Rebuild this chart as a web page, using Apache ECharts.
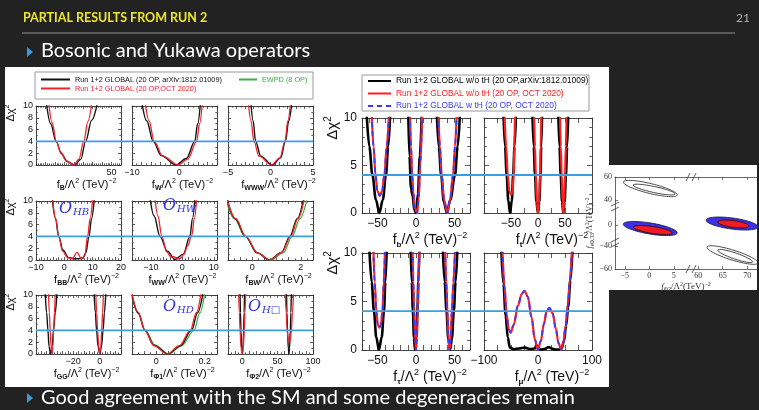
<!DOCTYPE html>
<html><head><meta charset="utf-8">
<script src="https://cdn.jsdelivr.net/npm/echarts@6/dist/echarts.min.js"></script>
<style>html,body{margin:0;padding:0;background:#222;}#c{width:759px;height:410px;}</style>
</head><body><div id="c"></div>
<script>
// ---------------- DATA ----------------
const threshold = 4;
const N_L1 = 'Run 1+2 GLOBAL (20 OP, arXiv:1812.01009)';
const N_L2 = 'Run 1+2 GLOBAL (20 OP,OCT 2020)';
const N_L3 = 'EWPD (8 OP)';
const N_R1 = 'Run 1+2 GLOBAL w/o tH (20 OP,arXiv:1812.01009)';
const N_R2 = 'Run 1+2 GLOBAL w/o tH (20 OP, OCT 2020)';
const N_R3 = 'Run 1+2 GLOBAL w tH (20 OP, OCT 2020)';

// left panel curves (each: list of wells, each well: [f, dchi2] points)
const fB_run1 = [[[-19,10.5],[-14.5,7],[-8.7,4],[-3,1.9],[3,0.6],[11,0],[17.5,1],[22.5,4],[29,7.6],[35,10.5]]];
const fB_oct  = [[[-16.5,10.5],[-13,7.2],[-8.5,4],[-4,2.2],[2,0.7],[10,0],[15.5,1],[20.5,4],[25,7.4],[29,10.5]]];
const fW_run1 = [[[-7.9,10.5],[-6.9,7.5],[-5.5,4],[-3.8,1.6],[-0.7,0],[1.5,1.1],[3.3,4],[3.9,7],[4.5,10.5]]];
const fW_oct  = [[[-7.2,10.5],[-6.4,7.5],[-5.3,4],[-3.5,1.5],[-0.2,0],[1.8,1],[3.7,4],[4.3,7],[4.9,10.5]]];
const fWWW_run1 = [[[-2.3,10.5],[-2.05,7.5],[-1.75,4],[-1.15,1.5],[0.2,0],[1.2,1.2],[1.75,4],[2.15,7.5],[2.5,10.5]]];
const fWWW_oct  = [[[-2.6,10.5],[-2.3,7.5],[-1.95,4],[-1.35,1.5],[0.1,0],[1.1,1.2],[1.7,4],[2.05,7.5],[2.35,10.5]]];
const fBB_run1 = [[[-4.3,10.5],[-3.1,7],[-2,4],[-0.5,1.7],[1.5,0.4],[4,0.2],[6.5,0.25],[7.6,1.2],[8.7,4],[9.6,7],[10.6,10.5]]];
const fBB_oct  = [[[-4.2,10.5],[-3,7],[-2,4],[-0.6,1.5],[1.2,0.4],[2.8,0.2],[4.5,1.3],[6,0.2],[7.2,0.7],[8.2,4],[9.1,7],[10,10.5]]];
const fWW_run1 = [[[-10.3,10.5],[-9,7.5],[-7.1,4],[-4.8,1.5],[-2.3,0.1],[0.3,1],[2.4,4],[3.2,7],[4,10.5]]];
const fWW_oct  = [[[-8.7,10.5],[-7.8,7.5],[-6.5,4],[-5,1.4],[-3.6,0.45],[-2.8,0.6],[-1.8,0.2],[-0.6,0.3],[0.4,0.9],[1.7,2.4],[3,4.2],[3.8,7],[4.55,10.5]]];
const fBW_run1 = [[[-1.05,10.5],[-0.7,7],[-0.28,4],[0.2,1.2],[0.7,0],[1.2,1.3],[1.55,4],[1.85,7],[2.12,10.5]]];
const fBW_oct  = [[[-1.05,10.5],[-0.68,7],[-0.27,4],[0.22,1.2],[0.72,0],[1.22,1.3],[1.58,4],[1.88,7],[2.15,10.5]]];
const fBW_ewpd = [[[-1.1,10.5],[-0.74,7],[-0.3,4],[0.22,1.2],[0.76,0],[1.28,1.2],[1.64,4],[1.96,7],[2.26,10.5]]];
const fGG_run1 = [[[-41.1,10.5],[-40,7],[-39,4],[-38.2,1.3],[-37,0],[-35.8,1.3],[-34.8,4],[-33.5,7],[-32.2,10.5]],
                  [[-4.3,10.5],[-3.3,7],[-2.4,4],[-1.3,1.3],[0,0],[1.3,1.3],[2.5,4],[3.5,7],[4.6,10.5]]];
const fGG_oct  = [[[-38.6,10.5],[-38,7],[-37.3,4],[-36.7,1.3],[-36,0],[-35.3,1.3],[-34.7,4],[-34.1,7],[-33.5,10.5]],
                  [[-3,10.5],[-2.3,7],[-1.6,4],[-0.8,1.3],[0,0],[0.8,1.3],[1.5,4],[2.1,7],[2.8,10.5]]];
const fPhi1_run1 = [[[-0.1,10],[-0.075,7],[-0.047,4],[-0.01,1.5],[0.048,0],[0.1,1.4],[0.145,4],[0.17,7],[0.193,10.5]]];
const fPhi1_oct  = [[[-0.1,10.2],[-0.075,7.1],[-0.047,4],[-0.01,1.4],[0.045,0],[0.095,1.4],[0.14,4],[0.165,7],[0.185,10.5]]];
const fPhi1_ewpd = [[[-0.1,9.6],[-0.072,6.8],[-0.045,4],[-0.005,1.5],[0.05,0],[0.105,1.4],[0.155,4],[0.18,7],[0.2,10.5]]];
const fPhi2_run1 = [[[-3,10.5],[-2.4,7],[-1.7,4],[-0.8,1],[0.2,0],[1.2,1],[2.1,4],[2.8,7],[3.4,10.5]],
                    [[62.6,10.5],[63.2,7],[64,4],[65.1,1],[66,0],[66.9,1],[68,4],[68.8,7],[69.4,10.5]]];
const fPhi2_oct  = [[[-5,10.5],[-4,7],[-3,4],[-1.6,1],[0,0],[1.6,1],[3,4],[4,7],[5,10.5]],
                    [[60.8,10.5],[62.2,7],[63.5,4],[65,2.4],[66.5,2],[68,2.4],[69.5,4],[71,7],[72.5,10.5]]];

// right panel curves
const fb_run1 = [[[-64,10.5],[-60.5,7],[-56.5,4],[-52,1.4],[-47.5,0],[-43,1.4],[-39,4],[-36,7],[-33.5,10.5]],
                 [[-10,10.5],[-8.5,6],[-6.5,2.6],[-4.5,1.8],[-2,0.3],[0,0],[2.5,2],[5,6],[7.5,10.5]],
                 [[27,10.5],[29.5,7],[32.6,4],[36,1.2],[40,0],[44.5,1.4],[50.6,4],[54,7],[57,10.5]]];
const fb_oct  = [[[-57.5,10.5],[-55,7],[-52.5,4],[-50,2.3],[-47,1.8],[-44,2.3],[-41,4],[-38,7],[-35,10.5]],
                 [[-7.8,10.5],[-6.5,7],[-5,4],[-3.5,2.2],[-1.5,0.5],[1.5,0],[3.5,1.5],[5.5,5],[8,10.5]],
                 [[29,10.5],[31,7],[33.3,4],[36.5,1.3],[40.5,0],[44,1.3],[48,4],[50.5,7],[52.8,10.5]]];
const fb_wtH  = [[[-57.5,10.5],[-55,7],[-52.5,4],[-50,2.3],[-47,1.8],[-44,2.3],[-41,4],[-38,7],[-35,10.5]],
                 [[-7.8,10.5],[-6.5,7],[-5,4],[-3.5,2.2],[-1.5,0.5],[1.5,0],[3.5,1.5],[5.5,5],[8,10.5]],
                 [[29,10.5],[31,7],[33.3,4],[36.5,1.3],[40.5,0],[44,1.3],[48,4],[50.5,7],[52.8,10.5]]];
const ft_run1 = [[[-64,10.5],[-61,7],[-58,4],[-55,1.3],[-51.8,0],[-48.5,1.3],[-46,4],[-43.5,7],[-40.7,10.5]],
                 [[-10.3,10.5],[-8,7],[-5.5,4],[-3,1.2],[0,0],[2.5,1.2],[4.5,4],[6,7],[7.6,10.5]],
                 [[37.6,10.5],[39.8,7],[42,4],[44.5,1.2],[46.9,0],[49.3,1.2],[51.7,4],[54,7],[56,10.5]]];
const ft_oct  = [[[-62,10.5],[-59,7],[-56,4],[-53,2.3],[-50,1.9],[-47,2.3],[-45,4],[-43.8,7],[-42.6,10.5]],
                 [[-7.3,10.5],[-5.7,7],[-4,4],[-2,1],[0,0],[2,1],[3.8,4],[5,7],[6.3,10.5]],
                 [[40.7,10.5],[42.3,7],[43.8,4],[45.5,1.2],[46.9,0],[48.3,1.2],[50,4],[51.5,7],[53,10.5]]];
const ftau_run1 = [[[-60.5,10.5],[-57.5,7],[-54.5,4],[-51.5,1.3],[-48,0],[-44.5,1.3],[-41.5,4],[-39.7,7],[-38,10.5]],
                   [[-6.9,10.5],[-5.5,7],[-4,4],[-2.7,1.3],[-1.3,0],[0.2,1.3],[1.8,4],[3,7],[4.4,10.5]],
                   [[34.7,10.5],[37.2,7],[39.5,4],[41.8,1.2],[44.2,0],[46.6,1.2],[49,4],[51.3,7],[53.7,10.5]]];
const ftau_oct  = [[[-55.3,10.5],[-53.5,7],[-51.5,4],[-49.5,2.6],[-47.5,2.3],[-45.5,2.6],[-43.5,4],[-41.8,7],[-40.2,10.5]],
                   [[-4.5,10.5],[-3.5,7],[-2.4,4],[-1.2,1.2],[0,0],[1.2,1.2],[2.3,4],[3.3,7],[4.3,10.5]],
                   [[37.7,10.5],[39.3,7],[40.7,4],[42,1.2],[43.4,0],[44.9,1.2],[46.5,4],[48.5,7],[50.6,10.5]]];
const ftau_wtH  = [[[-55.3,10.5],[-53.5,7],[-51.5,4],[-49.5,2.6],[-47.5,2.3],[-45.5,2.6],[-43.5,4],[-41.8,7],[-40.2,10.5]],
                   [[-4.5,10.5],[-3.5,7],[-2.4,4],[-1.2,1.2],[0,0],[1.2,1.2],[2.3,4],[3.3,7],[4.3,10.5]],
                   [[37.7,10.5],[39.3,7],[40.7,4],[42,1.2],[43.4,0],[44.9,1.2],[46.5,4],[48.5,7],[50.6,10.5]]];
const fmu_run1 = [[[-68,10.5],[-64,6.8],[-60,3.6],[-56,1.3],[-52,0.25],[-45,0.1],[-35,0.15],[-25,0.25],[-15,0.1],[-6,0.15],[-3,0.5],[0,0.2],[5,0.05],[12,0.1],[20,0.3],[25,0.15],[32,0.05],[40,0.05],[44,0.2],[48,0.9],[52,2.5],[56,4.5],[60,7.2],[64,10.5]]];
const fmu_oct  = [[[-66,10.5],[-62,6.5],[-58,3.6],[-54,2.1],[-50.5,1.8],[-45,2.6],[-37,4.6],[-30,5.8],[-25,6.1],[-19,5.5],[-12,3.4],[-6,1.1],[0,0],[5,0.9],[11,2.7],[16,4],[21,4.35],[27,3.8],[33,2.2],[38,0.7],[43,0],[47,0.8],[51,2.4],[55,4.6],[59,7.2],[63,10.5]]];
const fmu_wtH  = [[[-66,10.5],[-62,6.5],[-58,3.6],[-54,2.1],[-50.5,1.8],[-45,2.6],[-37,4.6],[-30,5.8],[-25,6.1],[-19,5.5],[-12,3.4],[-6,1.1],[0,0],[5,0.9],[11,2.7],[16,4],[21,4.35],[27,3.8],[33,2.2],[38,0.7],[43,0],[47,0.8],[51,2.4],[55,4.6],[59,7.2],[63,10.5]]];

// inset: ellipses [x1, y1, x2, y2, halfMinor] (major-axis end points, real units)
const inset_oct95  = [[-5.3,1.1,5.7,-6.7,4.8],[61.6,4.6,72.2,-1.5,4.8]];
const inset_oct68  = [[-3.25,-1.5,4.7,-6.7,3.0],[64,2.9,70.3,-0.6,3.0]];
const inset_run195 = [[-5.3,55.7,5.7,44.3,4.3],[61.8,-40.9,72.2,-54.8,4.3]];
const inset_run168 = [[-3.3,53,5.3,45.2,2.6],[64,-43.5,71.1,-53.9,2.6]];
const insetXTicks = [-5,0,5,60,65,70];
const insetYTicks = [60,40,0,-40,-60];

// ---------------- BUILD ----------------
const FONT = 'Liberation Sans';
const ST = {
  L1:{name:N_L1,color:'#111111',width:1.4,z:3}, L2:{name:N_L2,color:'#f0232d',width:1.3,z:4}, L3:{name:N_L3,color:'#38b043',width:1.3,z:3},
  R1:{name:N_R1,color:'#000000',width:2.6,z:3}, R2:{name:N_R2,color:'#ff1f1f',width:2.2,z:4}, R3:{name:N_R3,color:'#3a3aff',width:1.8,z:5,type:[5,4]}
};
const grids=[], xAxes=[], yAxes=[], series=[];
function fmtNum(v){ const r=Math.round(v*1000)/1000; return (r<0?'−':'')+Math.abs(r); }
const axisName = sub => `{n|f}{s|${sub}}{n|/Λ}{p|2}{n| (TeV)}{p|−2}`;
function nameRich(fs){ return {
  n:{fontSize:fs,fontFamily:FONT,color:'#111'},
  s:{fontSize:Math.round(fs*0.6),fontWeight:'bold',fontFamily:FONT,color:'#111',padding:[Math.round(fs*0.55),0,0,0]},
  p:{fontSize:Math.round(fs*0.65),fontFamily:FONT,color:'#111',padding:[0,0,Math.round(fs*0.7),0]} }; }

function addPlot(p){
  const gi=grids.length; grids.push({left:p.left,top:p.top,width:p.width,height:p.height});
  const xi=xAxes.length, yi=yAxes.length, lc='#333';
  const tick={show:true,inside:true,length:p.tk,lineStyle:{color:lc,width:0.8}};
  const line={show:true,onZero:false,lineStyle:{color:lc,width:0.9}};
  const xb={type:'value',gridIndex:gi,min:p.x[0],max:p.x[1],interval:p.x[2],splitLine:{show:false},axisLine:line,axisTick:tick,
    minorTick:{show:p.x[3]>1,splitNumber:p.x[3]||1,length:p.tk*0.55,lineStyle:{color:lc,width:0.8}},minorSplitLine:{show:false}};
  xAxes.push(Object.assign({},xb,{position:'bottom',
    axisLabel:{show:true,margin:p.lm,fontSize:p.fs,fontFamily:FONT,color:'#111',showMinLabel:true,showMaxLabel:true,
      formatter:v=>p.labels.some(l=>Math.abs(l-v)<1e-6)?fmtNum(v):''},
    name:axisName(p.sub),nameLocation:'middle',nameGap:p.ng,nameTextStyle:{rich:nameRich(p.nfs),padding:[0,0,0,p.nshift]}}));
  xAxes.push(Object.assign({},xb,{position:'top',axisLabel:{show:false}}));
  const yb={type:'value',gridIndex:gi,min:0,max:10,interval:p.yInt,splitLine:{show:false},axisLine:line,axisTick:tick,
    minorTick:{show:true,splitNumber:p.yMinor,length:p.tk*0.55,lineStyle:{color:lc,width:0.8}}};
  yAxes.push(Object.assign({},yb,{position:'left',axisLabel:{show:p.yLab,margin:p.lm,fontSize:p.yfs||p.fs,fontFamily:FONT,color:'#111'}}));
  yAxes.push(Object.assign({},yb,{position:'right',axisLabel:{show:false}}));
  p.curves.forEach(([k,wells])=>{ const s=ST[k]; wells.forEach(w=>series.push({
    type:'line',name:s.name,xAxisIndex:xi,yAxisIndex:yi,data:w,symbol:'none',smooth:0.35,smoothMonotone:'x',
    lineStyle:{color:s.color,width:s.width,type:s.type||'solid'},itemStyle:{color:s.color},z:s.z,silent:true})); });
}
function addThreshold(left,top,width,height){
  const gi=grids.length; grids.push({left,top,width,height});
  const xi=xAxes.length, yi=yAxes.length;
  xAxes.push({type:'value',gridIndex:gi,min:0,max:1,show:false});
  yAxes.push({type:'value',gridIndex:gi,min:0,max:10,show:false});
  series.push({type:'line',xAxisIndex:xi,yAxisIndex:yi,data:[[0,threshold],[1,threshold]],symbol:'none',
    lineStyle:{color:'#3d9ddf',width:1.8},z:8,silent:true});
}

// left panel
const LC=[36,132,228], LR=[106,201,295], LW=85, LH=59;
const leftPlots=[
  {c:0,r:0,x:[-30,60,10,5],labels:[50],sub:'B',curves:[['L1',fB_run1],['L2',fB_oct]]},
  {c:1,r:0,x:[-10,8,2,2],labels:[-10,0],sub:'W',curves:[['L1',fW_run1],['L2',fW_oct]]},
  {c:2,r:0,x:[-5,5,1,2],labels:[-5,0,5],sub:'WWW',curves:[['L1',fWWW_run1],['L2',fWWW_oct]]},
  {c:0,r:1,x:[-10,20,2,2],labels:[-10,0,10,20],sub:'BB',curves:[['L1',fBB_run1],['L2',fBB_oct]]},
  {c:1,r:1,x:[-16,11,2,2],labels:[-10,0,10],sub:'WW',curves:[['L1',fWW_run1],['L2',fWW_oct]]},
  {c:2,r:1,x:[-1,2.5,0.5,2],labels:[0,2],sub:'BW',curves:[['L3',fBW_ewpd],['L1',fBW_run1],['L2',fBW_oct]]},
  {c:0,r:2,x:[-48,16,4,2],labels:[-20,0],sub:'GG',curves:[['L1',fGG_run1],['L2',fGG_oct]]},
  {c:1,r:2,x:[-0.1,0.25,0.05,2],labels:[0,0.2],sub:'Φ1',curves:[['L3',fPhi1_ewpd],['L1',fPhi1_run1],['L2',fPhi1_oct]]},
  {c:2,r:2,x:[-20,100,10,2],labels:[0,50,100],sub:'Φ2',curves:[['L1',fPhi2_run1],['L2',fPhi2_oct]]}
];
leftPlots.forEach(p=>addPlot(Object.assign({left:LC[p.c],top:LR[p.r],width:LW,height:LH,tk:3,lm:3,fs:9,
  ng:7,nfs:11,nshift:16,yInt:2,yMinor:2,yLab:p.c===0},p)));
LR.forEach(t=>addThreshold(LC[0],t,LC[2]+LW-LC[0],LH));

// right panel
const RC=[362,484], RR=[118,253], RW=108, RH=[95,97];
const rightPlots=[
  {c:0,r:0,x:[-70,70,10,1],labels:[-50,0,50],sub:'b',curves:[['R1',fb_run1],['R2',fb_oct],['R3',fb_wtH]]},
  {c:1,r:0,x:[-100,100,25,1],labels:[-50,0,50],sub:'t',curves:[['R1',ft_run1],['R2',ft_oct]]},
  {c:0,r:1,x:[-70,70,10,1],labels:[-50,0,50],sub:'τ',curves:[['R1',ftau_run1],['R2',ftau_oct],['R3',ftau_wtH]]},
  {c:1,r:1,x:[-100,100,25,1],labels:[-100,0,100],sub:'μ',curves:[['R1',fmu_run1],['R2',fmu_oct],['R3',fmu_wtH]]}
];
rightPlots.forEach(p=>addPlot(Object.assign({left:RC[p.c],top:RR[p.r],width:RW,height:RH[p.r],tk:5,lm:5,fs:12,
  ng:11,nfs:14,nshift:28,yInt:5,yMinor:5,yLab:p.c===0},p)));
RR.forEach((t,i)=>addThreshold(RC[0],t,RC[1]+RW-RC[0],RH[i]));

// inset (broken axes -> display units)
const dispX = x => x>30 ? x-50 : x;
const dispY = y => y>=30 ? y : (y<=-30 ? y+40 : y+18);
const realX = d => d>7.5 ? d+50 : d;
const realY = d => d>=30 ? d : (d<=5 ? d-40 : d-18);
{
  const gi=grids.length; grids.push({left:615,top:177,width:142,height:92});
  const xi=xAxes.length, yi=yAxes.length;
  const sf={fontFamily:'Liberation Serif',fontSize:8,color:'#333'};
  const ln={show:true,onZero:false,lineStyle:{color:'#444',width:0.8}};
  const tk={show:true,inside:true,length:3,lineStyle:{color:'#444',width:0.7}};
  const xv=insetXTicks.map(dispX), yv=insetYTicks.map(dispY);
  xAxes.push({type:'value',gridIndex:gi,min:-7,max:22,position:'bottom',splitLine:{show:false},axisLine:ln,
    axisTick:Object.assign({customValues:xv},tk),axisLabel:Object.assign({customValues:xv,margin:3,formatter:v=>fmtNum(realX(v))},sf),
    name:'{i|f}{s|Φ2}{n|/Λ}{p|2}{n|(TeV)}{p|−2}',nameLocation:'middle',nameGap:12,
    nameTextStyle:{rich:{i:{fontFamily:'Liberation Serif',fontStyle:'italic',fontSize:9,color:'#333'},n:{fontFamily:'Liberation Serif',fontSize:9,color:'#333'},
      s:{fontFamily:'Liberation Serif',fontSize:6,color:'#333',padding:[5,0,0,0]},p:{fontFamily:'Liberation Serif',fontSize:6,color:'#333',padding:[0,0,6,0]}}}});
  xAxes.push({type:'value',gridIndex:gi,min:-7,max:22,position:'top',splitLine:{show:false},axisLine:ln,
    axisTick:Object.assign({customValues:xv},tk),axisLabel:{show:false}});
  yAxes.push({type:'value',gridIndex:gi,min:-20,max:60,position:'left',splitLine:{show:false},axisLine:ln,
    axisTick:Object.assign({customValues:yv},tk),axisLabel:Object.assign({customValues:yv,margin:3,formatter:v=>fmtNum(realY(v))},sf),
    name:'{i|f}{s|eΦ,33}{n|/Λ}{p|2}{n|(TeV)}{p|−2}',nameLocation:'middle',nameGap:11,
    nameTextStyle:{rich:{i:{fontFamily:'Liberation Serif',fontStyle:'italic',fontSize:8,color:'#333'},n:{fontFamily:'Liberation Serif',fontSize:8,color:'#333'},
      s:{fontFamily:'Liberation Serif',fontSize:5.5,color:'#333',padding:[5,0,0,0]},p:{fontFamily:'Liberation Serif',fontSize:5.5,color:'#333',padding:[0,0,6,0]}}}});
  const ell=(arr,fill,stroke,z)=>series.push({type:'custom',xAxisIndex:xi,yAxisIndex:yi,z,silent:true,clip:false,
    data:arr.map(e=>[dispX(e[0]),dispY(e[1]),dispX(e[2]),dispY(e[3]),e[4]]),
    renderItem:(params,api)=>{
      const p1=api.coord([api.value(0),api.value(1)]), p2=api.coord([api.value(2),api.value(3)]);
      const dx=p2[0]-p1[0], dy=p2[1]-p1[1];
      return {type:'ellipse',x:(p1[0]+p2[0])/2,y:(p1[1]+p2[1])/2,rotation:-Math.atan2(dy,dx),
        shape:{cx:0,cy:0,rx:Math.hypot(dx,dy)/2,ry:api.size([0,api.value(4)])[1]},
        style:{fill,stroke,lineWidth:0.8}};
    }});
  ell(inset_oct95,'#3d30e8','#1a1a40',3); ell(inset_oct68,'#f01c22','#2a0a0a',4);
  ell(inset_run195,'none','#333',3); ell(inset_run168,'none','#333',3);
}

// ---------------- GRAPHICS (slide decoration) ----------------
const triangle=(x,y)=>({type:'polygon',shape:{points:[[x,y-5],[x+6,y],[x,y+5]]},style:{fill:'#3c9ad8'},z:20});
const subRich=(fs)=>({o:{fontFamily:'DejaVu Serif',fontStyle:'italic',fontSize:fs,fill:'#3535ee',color:'#3535ee'},
  s:{fontFamily:'DejaVu Serif',fontStyle:'italic',fontSize:Math.round(fs*0.62),fill:'#3535ee',color:'#3535ee',padding:[7,0,0,1]}});
const oLabel=(x,y,sub)=>({type:'text',x,y,z:30,style:{text:`{o|O}{s|${sub}}`,rich:subRich(16),align:'left',verticalAlign:'middle'}});
const dchi=(x,y,fs)=>({type:'text',x,y,rotation:Math.PI/2,z:30,style:{text:'{a|Δχ}{b|2}',align:'center',verticalAlign:'middle',
  rich:{a:{fontFamily:FONT,fontSize:fs,fill:'#111',color:'#111'},b:{fontFamily:FONT,fontSize:Math.round(fs*0.65),fill:'#111',color:'#111',padding:[0,0,fs*0.7,0]}}}});
const breakMark=(x,y,vertical)=>vertical
  ? {type:'group',z:30,children:[{type:'rect',shape:{x:x-3,y:y-3,width:6,height:6},style:{fill:'#fff'}},
     {type:'line',shape:{x1:x-4,y1:y-1,x2:x+4,y2:y-5},style:{stroke:'#333',lineWidth:0.8}},
     {type:'line',shape:{x1:x-4,y1:y+4,x2:x+4,y2:y},style:{stroke:'#333',lineWidth:0.8}}]}
  : {type:'group',z:30,children:[{type:'rect',shape:{x:x-3,y:y-3,width:6,height:6},style:{fill:'#fff'}},
     {type:'line',shape:{x1:x-5,y1:y+4,x2:x-1,y2:y-4},style:{stroke:'#333',lineWidth:0.8}},
     {type:'line',shape:{x1:x+1,y1:y+4,x2:x+5,y2:y-4},style:{stroke:'#333',lineWidth:0.8}}]};

const graphics=[
  {type:'rect',z:-10,shape:{x:5,y:67,width:604,height:320},style:{fill:'#ffffff'}},
  {type:'rect',z:-10,shape:{x:606,y:165,width:151,height:125},style:{fill:'#ffffff'}},
  {type:'text',x:23,y:18,z:20,style:{text:'PARTIAL RESULTS FROM RUN 2',fill:'#eee52c',font:'bold 12.5px Lato',align:'left',verticalAlign:'middle'}},
  {type:'text',x:750,y:18,z:20,style:{text:'21',fill:'#b0b0b0',font:'12px Lato',align:'right',verticalAlign:'middle'}},
  {type:'line',z:20,shape:{x1:22,y1:33,x2:735,y2:33},style:{stroke:'#6e6e6e',lineWidth:1.5}},
  triangle(27,52),
  {type:'text',x:41,y:51,z:20,style:{text:'Bosonic and Yukawa operators',fill:'#ffffff',font:'20px Lato',align:'left',verticalAlign:'middle'}},
  triangle(27,398),
  {type:'text',x:41,y:398,z:20,style:{text:'Good agreement with the SM and some degeneracies remain',fill:'#ffffff',font:'20px Lato',align:'left',verticalAlign:'middle'}},
  {type:'rect',z:1,shape:{x:35,y:72,width:278,height:27},style:{fill:'none',stroke:'#9a9a9a',lineWidth:1}},
  {type:'rect',z:1,shape:{x:362,y:75,width:227,height:36},style:{fill:'none',stroke:'#9a9a9a',lineWidth:1}},
  dchi(11,113,11), dchi(11,207,11), dchi(11,302,11),
  dchi(333,128,15), dchi(333,263,15),
  oLabel(59,209,'HB'), oLabel(163,206,'HW'), oLabel(163,307,'HD'), oLabel(248,307,'H□'),
  breakMark(691,177,false), breakMark(691,269,false), breakMark(615,207,true), breakMark(615,243,true)
];

const option={
  backgroundColor:'#222222', animation:false,
  grid:grids, xAxis:xAxes, yAxis:yAxes, series,
  legend:[
    {left:40,top:76,orient:'vertical',itemWidth:29,itemHeight:8,itemGap:2,padding:0,selectedMode:false,itemStyle:{opacity:0},
      textStyle:{fontFamily:FONT,fontSize:7.3},data:[{name:N_L1,textStyle:{color:'#111'}},{name:N_L2,textStyle:{color:'#f0232d'}}]},
    {left:238,top:76,orient:'vertical',itemWidth:18,itemHeight:8,padding:0,selectedMode:false,itemStyle:{opacity:0},
      textStyle:{fontFamily:FONT,fontSize:7.3},data:[{name:N_L3,textStyle:{color:'#38b043'}}]},
    {left:367,top:76,orient:'vertical',itemWidth:23,itemHeight:8,itemGap:2.5,padding:0,selectedMode:false,itemStyle:{opacity:0},
      textStyle:{fontFamily:FONT,fontSize:8.4,lineHeight:10},data:[{name:N_R1,textStyle:{color:'#000'}},{name:N_R2,textStyle:{color:'#ff1f1f'}},{name:N_R3,textStyle:{color:'#3a3aff'}}]}
  ],
  graphic:{elements:graphics}
};
const chart=echarts.init(document.getElementById('c'),null,{renderer:'canvas'});
chart.setOption(option);
</script></body></html>
